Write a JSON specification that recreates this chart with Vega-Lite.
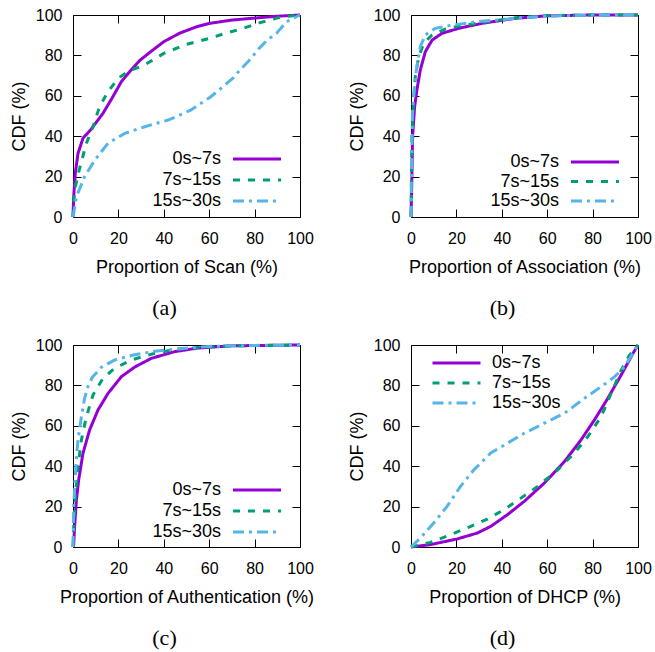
{
  "$schema": "https://vega.github.io/schema/vega-lite/v6.json",
  "padding": {"left": 10, "top": 7, "right": 5, "bottom": 5},
  "background": "white",
  "config": {
    "font": "Liberation Sans",
    "view": {"stroke": null},
    "axis": {"grid": false, "labelFlush": false, "domainColor": "black", "domainWidth": 1, "tickColor": "black", "tickWidth": 1, "labelFont": "Liberation Sans", "labelFontSize": 16, "labelColor": "black", "titleFont": "Liberation Sans", "titleFontSize": 18, "titleFontWeight": "normal", "titleColor": "black"},
    "legend": {"labelFont": "Liberation Sans", "labelFontSize": 18, "labelColor": "black", "padding": 0},
    "title": {"font": "Liberation Serif", "fontSize": 22, "fontWeight": "normal", "color": "black"}
  },
  "data": {"values": [
    {"panel":"a","series":"0s~7s","x":0,"y":0},{"panel":"a","series":"0s~7s","x":0.3,"y":10},{"panel":"a","series":"0s~7s","x":1,"y":21.6},{"panel":"a","series":"0s~7s","x":2.2,"y":31.5},{"panel":"a","series":"0s~7s","x":4.4,"y":39},{"panel":"a","series":"0s~7s","x":8,"y":43.5},{"panel":"a","series":"0s~7s","x":13.2,"y":51.3},{"panel":"a","series":"0s~7s","x":17.6,"y":59.6},{"panel":"a","series":"0s~7s","x":21.3,"y":67},{"panel":"a","series":"0s~7s","x":25,"y":72},{"panel":"a","series":"0s~7s","x":29.6,"y":77.7},{"panel":"a","series":"0s~7s","x":35,"y":82.5},{"panel":"a","series":"0s~7s","x":40,"y":86.8},{"panel":"a","series":"0s~7s","x":47,"y":91},{"panel":"a","series":"0s~7s","x":54.5,"y":94.2},{"panel":"a","series":"0s~7s","x":60.4,"y":95.9},{"panel":"a","series":"0s~7s","x":70,"y":97.5},{"panel":"a","series":"0s~7s","x":79.4,"y":98.4},{"panel":"a","series":"0s~7s","x":90,"y":99.4},{"panel":"a","series":"0s~7s","x":100,"y":100},
    {"panel":"a","series":"7s~15s","x":0,"y":0},{"panel":"a","series":"7s~15s","x":0.7,"y":13.4},{"panel":"a","series":"7s~15s","x":2.9,"y":24},{"panel":"a","series":"7s~15s","x":5.9,"y":36.5},{"panel":"a","series":"7s~15s","x":8.8,"y":44.7},{"panel":"a","series":"7s~15s","x":11.7,"y":54.6},{"panel":"a","series":"7s~15s","x":15.4,"y":62},{"panel":"a","series":"7s~15s","x":17.6,"y":65.3},{"panel":"a","series":"7s~15s","x":21,"y":69.5},{"panel":"a","series":"7s~15s","x":25,"y":72.5},{"panel":"a","series":"7s~15s","x":31.4,"y":75.2},{"panel":"a","series":"7s~15s","x":40,"y":81},{"panel":"a","series":"7s~15s","x":50,"y":85.5},{"panel":"a","series":"7s~15s","x":60.4,"y":88.5},{"panel":"a","series":"7s~15s","x":66.2,"y":90.6},{"panel":"a","series":"7s~15s","x":75,"y":93.4},{"panel":"a","series":"7s~15s","x":82.4,"y":96.2},{"panel":"a","series":"7s~15s","x":91.2,"y":98.9},{"panel":"a","series":"7s~15s","x":100,"y":100},
    {"panel":"a","series":"15s~30s","x":0,"y":0},{"panel":"a","series":"15s~30s","x":1.5,"y":10},{"panel":"a","series":"15s~30s","x":5.1,"y":20},{"panel":"a","series":"15s~30s","x":9.5,"y":28},{"panel":"a","series":"15s~30s","x":15.4,"y":36.5},{"panel":"a","series":"15s~30s","x":22.8,"y":41.4},{"panel":"a","series":"15s~30s","x":31.6,"y":44.7},{"panel":"a","series":"15s~30s","x":41.9,"y":48},{"panel":"a","series":"15s~30s","x":47.1,"y":50.5},{"panel":"a","series":"15s~30s","x":52,"y":53},{"panel":"a","series":"15s~30s","x":56,"y":56},{"panel":"a","series":"15s~30s","x":60.4,"y":59.3},{"panel":"a","series":"15s~30s","x":65,"y":63.5},{"panel":"a","series":"15s~30s","x":70.7,"y":69},{"panel":"a","series":"15s~30s","x":73.6,"y":72.8},{"panel":"a","series":"15s~30s","x":78,"y":78},{"panel":"a","series":"15s~30s","x":82.4,"y":84},{"panel":"a","series":"15s~30s","x":86,"y":88},{"panel":"a","series":"15s~30s","x":89.7,"y":91},{"panel":"a","series":"15s~30s","x":94.1,"y":96.7},{"panel":"a","series":"15s~30s","x":100,"y":100},
    {"panel":"b","series":"0s~7s","x":0,"y":0},{"panel":"b","series":"0s~7s","x":0.4,"y":20},{"panel":"b","series":"0s~7s","x":0.7,"y":39.8},{"panel":"b","series":"0s~7s","x":1.6,"y":54.6},{"panel":"b","series":"0s~7s","x":2.6,"y":62.9},{"panel":"b","series":"0s~7s","x":4.1,"y":72.8},{"panel":"b","series":"0s~7s","x":6.3,"y":81.8},{"panel":"b","series":"0s~7s","x":9.3,"y":87.6},{"panel":"b","series":"0s~7s","x":13.6,"y":90.9},{"panel":"b","series":"0s~7s","x":21,"y":93.4},{"panel":"b","series":"0s~7s","x":31.4,"y":95.9},{"panel":"b","series":"0s~7s","x":46.2,"y":98.4},{"panel":"b","series":"0s~7s","x":60,"y":99.6},{"panel":"b","series":"0s~7s","x":80,"y":100},{"panel":"b","series":"0s~7s","x":100,"y":100},
    {"panel":"b","series":"7s~15s","x":0,"y":0},{"panel":"b","series":"7s~15s","x":0.2,"y":20},{"panel":"b","series":"7s~15s","x":0.4,"y":40},{"panel":"b","series":"7s~15s","x":1.1,"y":56.3},{"panel":"b","series":"7s~15s","x":1.9,"y":69.5},{"panel":"b","series":"7s~15s","x":3.4,"y":79.4},{"panel":"b","series":"7s~15s","x":5.6,"y":86},{"panel":"b","series":"7s~15s","x":9.3,"y":90.1},{"panel":"b","series":"7s~15s","x":15,"y":93},{"panel":"b","series":"7s~15s","x":21,"y":94.5},{"panel":"b","series":"7s~15s","x":31.4,"y":96.3},{"panel":"b","series":"7s~15s","x":46.2,"y":98.6},{"panel":"b","series":"7s~15s","x":60,"y":99.7},{"panel":"b","series":"7s~15s","x":80,"y":100},{"panel":"b","series":"7s~15s","x":100,"y":100},
    {"panel":"b","series":"15s~30s","x":0,"y":0},{"panel":"b","series":"15s~30s","x":0.2,"y":20},{"panel":"b","series":"15s~30s","x":0.7,"y":53},{"panel":"b","series":"15s~30s","x":1.9,"y":69.5},{"panel":"b","series":"15s~30s","x":3.1,"y":77.7},{"panel":"b","series":"15s~30s","x":4.1,"y":84.3},{"panel":"b","series":"15s~30s","x":6.3,"y":90.1},{"panel":"b","series":"15s~30s","x":10.7,"y":93.4},{"panel":"b","series":"15s~30s","x":18,"y":95},{"panel":"b","series":"15s~30s","x":30,"y":96.8},{"panel":"b","series":"15s~30s","x":46.2,"y":98.3},{"panel":"b","series":"15s~30s","x":60,"y":99.5},{"panel":"b","series":"15s~30s","x":80,"y":99.9},{"panel":"b","series":"15s~30s","x":100,"y":100},
    {"panel":"c","series":"0s~7s","x":0,"y":0},{"panel":"c","series":"0s~7s","x":0.3,"y":1},{"panel":"c","series":"0s~7s","x":0.7,"y":10},{"panel":"c","series":"0s~7s","x":1.5,"y":23.3},{"panel":"c","series":"0s~7s","x":2.5,"y":33.2},{"panel":"c","series":"0s~7s","x":4.4,"y":46.4},{"panel":"c","series":"0s~7s","x":7.3,"y":57.9},{"panel":"c","series":"0s~7s","x":11,"y":67.8},{"panel":"c","series":"0s~7s","x":15.4,"y":76},{"panel":"c","series":"0s~7s","x":21.3,"y":84.3},{"panel":"c","series":"0s~7s","x":27.2,"y":89.1},{"panel":"c","series":"0s~7s","x":34.5,"y":93.4},{"panel":"c","series":"0s~7s","x":44.8,"y":96.7},{"panel":"c","series":"0s~7s","x":55,"y":98.5},{"panel":"c","series":"0s~7s","x":70,"y":99.6},{"panel":"c","series":"0s~7s","x":100,"y":100},
    {"panel":"c","series":"7s~15s","x":0,"y":0},{"panel":"c","series":"7s~15s","x":0.3,"y":10},{"panel":"c","series":"7s~15s","x":1,"y":25},{"panel":"c","series":"7s~15s","x":2.2,"y":39.8},{"panel":"c","series":"7s~15s","x":3.7,"y":53},{"panel":"c","series":"7s~15s","x":5.9,"y":64.5},{"panel":"c","series":"7s~15s","x":8.8,"y":75.2},{"panel":"c","series":"7s~15s","x":13.2,"y":83.5},{"panel":"c","series":"7s~15s","x":18.4,"y":88.5},{"panel":"c","series":"7s~15s","x":25.7,"y":92.6},{"panel":"c","series":"7s~15s","x":36,"y":95.9},{"panel":"c","series":"7s~15s","x":45,"y":97.8},{"panel":"c","series":"7s~15s","x":55,"y":98.8},{"panel":"c","series":"7s~15s","x":70,"y":99.6},{"panel":"c","series":"7s~15s","x":100,"y":100},
    {"panel":"c","series":"15s~30s","x":0,"y":0},{"panel":"c","series":"15s~30s","x":0.3,"y":20},{"panel":"c","series":"15s~30s","x":1,"y":35},{"panel":"c","series":"15s~30s","x":1.6,"y":45},{"panel":"c","series":"15s~30s","x":2.2,"y":53},{"panel":"c","series":"15s~30s","x":3.7,"y":64.5},{"panel":"c","series":"15s~30s","x":5.1,"y":73.6},{"panel":"c","series":"15s~30s","x":6.6,"y":79.5},{"panel":"c","series":"15s~30s","x":8.5,"y":84},{"panel":"c","series":"15s~30s","x":12.5,"y":89},{"panel":"c","series":"15s~30s","x":18.4,"y":92.6},{"panel":"c","series":"15s~30s","x":27.2,"y":95.2},{"panel":"c","series":"15s~30s","x":36,"y":96.9},{"panel":"c","series":"15s~30s","x":45,"y":98},{"panel":"c","series":"15s~30s","x":60,"y":99.3},{"panel":"c","series":"15s~30s","x":80,"y":99.8},{"panel":"c","series":"15s~30s","x":100,"y":100},
    {"panel":"d","series":"0s~7s","x":0,"y":0},{"panel":"d","series":"0s~7s","x":8.6,"y":1.2},{"panel":"d","series":"0s~7s","x":20.4,"y":4},{"panel":"d","series":"0s~7s","x":29.2,"y":6.9},{"panel":"d","series":"0s~7s","x":35.1,"y":10.2},{"panel":"d","series":"0s~7s","x":42.5,"y":16},{"panel":"d","series":"0s~7s","x":49.9,"y":22.6},{"panel":"d","series":"0s~7s","x":58.7,"y":31.6},{"panel":"d","series":"0s~7s","x":67.6,"y":42.3},{"panel":"d","series":"0s~7s","x":74.9,"y":53},{"panel":"d","series":"0s~7s","x":80.8,"y":62.9},{"panel":"d","series":"0s~7s","x":86.7,"y":73.6},{"panel":"d","series":"0s~7s","x":92.6,"y":85.2},{"panel":"d","series":"0s~7s","x":97.8,"y":95.9},{"panel":"d","series":"0s~7s","x":100,"y":100},
    {"panel":"d","series":"7s~15s","x":0,"y":0},{"panel":"d","series":"7s~15s","x":8.6,"y":2.3},{"panel":"d","series":"7s~15s","x":17.4,"y":6.1},{"panel":"d","series":"7s~15s","x":26.3,"y":10.2},{"panel":"d","series":"7s~15s","x":33.6,"y":13.8},{"panel":"d","series":"7s~15s","x":41,"y":18.5},{"panel":"d","series":"7s~15s","x":48.4,"y":24.2},{"panel":"d","series":"7s~15s","x":55.8,"y":30},{"panel":"d","series":"7s~15s","x":64.6,"y":38.2},{"panel":"d","series":"7s~15s","x":72,"y":46.5},{"panel":"d","series":"7s~15s","x":77.9,"y":54.7},{"panel":"d","series":"7s~15s","x":83.8,"y":64.6},{"panel":"d","series":"7s~15s","x":88.2,"y":76.1},{"panel":"d","series":"7s~15s","x":92.6,"y":87.6},{"panel":"d","series":"7s~15s","x":96.3,"y":95},{"panel":"d","series":"7s~15s","x":100,"y":100},
    {"panel":"d","series":"15s~30s","x":0,"y":0},{"panel":"d","series":"15s~30s","x":4.1,"y":4.4},{"panel":"d","series":"15s~30s","x":10,"y":11.9},{"panel":"d","series":"15s~30s","x":15.9,"y":20.1},{"panel":"d","series":"15s~30s","x":21.8,"y":30},{"panel":"d","series":"15s~30s","x":27.7,"y":38.2},{"panel":"d","series":"15s~30s","x":35.1,"y":46.5},{"panel":"d","series":"15s~30s","x":42.5,"y":51.4},{"panel":"d","series":"15s~30s","x":49.9,"y":56.3},{"panel":"d","series":"15s~30s","x":58.7,"y":61.3},{"panel":"d","series":"15s~30s","x":67.6,"y":66.2},{"panel":"d","series":"15s~30s","x":76.4,"y":73.6},{"panel":"d","series":"15s~30s","x":83.8,"y":79.4},{"panel":"d","series":"15s~30s","x":89.7,"y":84.3},{"panel":"d","series":"15s~30s","x":94.1,"y":89.3},{"panel":"d","series":"15s~30s","x":100,"y":100}
  ]},
  "columns": 2,
  "spacing": {"row": 128, "column": 111},
  "bounds": "flush",
  "resolve": {"scale": {"color": "independent", "strokeDash": "independent"}, "legend": {"color": "independent", "strokeDash": "independent"}},
  "concat": [
    {
      "width": 227, "height": 202,
      "title": {"text": "(a)", "orient": "bottom", "anchor": "middle", "dx": -22, "offset": 22},
      "transform": [{"filter": "datum.panel == 'a'"}],
      "layer": [
        {
          "mark": {"type": "line", "strokeWidth": 3},
          "encoding": {
            "x": {"field": "x", "type": "quantitative", "scale": {"domain": [0, 100]}, "axis": {"title": "Proportion of Scan (%)", "orient": "bottom", "values": [0, 20, 40, 60, 80, 100], "tickSize": -8, "labelPadding": 21, "titlePadding": 12}},
            "y": {"field": "y", "type": "quantitative", "scale": {"domain": [0, 100]}, "axis": {"title": "CDF (%)", "orient": "left", "values": [0, 20, 40, 60, 80, 100], "tickSize": -8, "labelPadding": 19, "titlePadding": 7}},
            "color": {"field": "series", "type": "nominal", "scale": {"domain": ["0s~7s", "7s~15s", "15s~30s"], "range": ["#9400D3", "#009E73", "#56B4E9"]}, "legend": {"title": null, "orient": "none", "legendX": 75, "legendY": 135, "symbolType": "M-4,0H4", "symbolSize": 144, "symbolStrokeWidth": 3, "symbolOffset": 100, "labelAlign": "right", "labelOffset": -45, "rowPadding": 3}},
            "strokeDash": {"field": "series", "type": "nominal", "scale": {"domain": ["0s~7s", "7s~15s", "15s~30s"], "range": [[1, 0], [7, 8], [11, 5, 3, 5]]}, "legend": {"title": null, "orient": "none", "legendX": 75, "legendY": 135, "symbolType": "M-4,0H4", "symbolSize": 144, "symbolStrokeWidth": 3, "symbolOffset": 100, "labelAlign": "right", "labelOffset": -45, "rowPadding": 3}}
          }
        },
        {
          "mark": {"type": "point", "opacity": 0},
          "encoding": {
            "x": {"field": "x", "type": "quantitative", "axis": {"orient": "top", "labels": false, "title": null, "tickSize": -8, "values": [0, 20, 40, 60, 80, 100]}},
            "y": {"field": "y", "type": "quantitative", "axis": {"orient": "right", "labels": false, "title": null, "tickSize": -8, "values": [0, 20, 40, 60, 80, 100]}}
          }
        }
      ],
      "resolve": {"axis": {"x": "independent", "y": "independent"}}
    },
    {
      "width": 227, "height": 202,
      "title": {"text": "(b)", "orient": "bottom", "anchor": "middle", "dx": -22, "offset": 22},
      "transform": [{"filter": "datum.panel == 'b'"}],
      "layer": [
        {
          "mark": {"type": "line", "strokeWidth": 3},
          "encoding": {
            "x": {"field": "x", "type": "quantitative", "scale": {"domain": [0, 100]}, "axis": {"title": "Proportion of Association (%)", "orient": "bottom", "values": [0, 20, 40, 60, 80, 100], "tickSize": -8, "labelPadding": 21, "titlePadding": 12}},
            "y": {"field": "y", "type": "quantitative", "scale": {"domain": [0, 100]}, "axis": {"title": "CDF (%)", "orient": "left", "values": [0, 20, 40, 60, 80, 100], "tickSize": -8, "labelPadding": 19, "titlePadding": 7}},
            "color": {"field": "series", "type": "nominal", "scale": {"domain": ["0s~7s", "7s~15s", "15s~30s"], "range": ["#9400D3", "#009E73", "#56B4E9"]}, "legend": {"title": null, "orient": "none", "legendX": 75, "legendY": 138, "symbolType": "M-4,0H4", "symbolSize": 144, "symbolStrokeWidth": 3, "symbolOffset": 100, "labelAlign": "right", "labelOffset": -45, "rowPadding": 1.5}},
            "strokeDash": {"field": "series", "type": "nominal", "scale": {"domain": ["0s~7s", "7s~15s", "15s~30s"], "range": [[1, 0], [7, 8], [11, 5, 3, 5]]}, "legend": {"title": null, "orient": "none", "legendX": 75, "legendY": 138, "symbolType": "M-4,0H4", "symbolSize": 144, "symbolStrokeWidth": 3, "symbolOffset": 100, "labelAlign": "right", "labelOffset": -45, "rowPadding": 1.5}}
          }
        },
        {
          "mark": {"type": "point", "opacity": 0},
          "encoding": {
            "x": {"field": "x", "type": "quantitative", "axis": {"orient": "top", "labels": false, "title": null, "tickSize": -8, "values": [0, 20, 40, 60, 80, 100]}},
            "y": {"field": "y", "type": "quantitative", "axis": {"orient": "right", "labels": false, "title": null, "tickSize": -8, "values": [0, 20, 40, 60, 80, 100]}}
          }
        }
      ],
      "resolve": {"axis": {"x": "independent", "y": "independent"}}
    },
    {
      "width": 227, "height": 202,
      "title": {"text": "(c)", "orient": "bottom", "anchor": "middle", "dx": -22, "offset": 22},
      "transform": [{"filter": "datum.panel == 'c'"}],
      "layer": [
        {
          "mark": {"type": "line", "strokeWidth": 3},
          "encoding": {
            "x": {"field": "x", "type": "quantitative", "scale": {"domain": [0, 100]}, "axis": {"title": "Proportion of Authentication (%)", "orient": "bottom", "values": [0, 20, 40, 60, 80, 100], "tickSize": -8, "labelPadding": 21, "titlePadding": 12}},
            "y": {"field": "y", "type": "quantitative", "scale": {"domain": [0, 100]}, "axis": {"title": "CDF (%)", "orient": "left", "values": [0, 20, 40, 60, 80, 100], "tickSize": -8, "labelPadding": 19, "titlePadding": 7}},
            "color": {"field": "series", "type": "nominal", "scale": {"domain": ["0s~7s", "7s~15s", "15s~30s"], "range": ["#9400D3", "#009E73", "#56B4E9"]}, "legend": {"title": null, "orient": "none", "legendX": 75, "legendY": 136, "symbolType": "M-4,0H4", "symbolSize": 144, "symbolStrokeWidth": 3, "symbolOffset": 100, "labelAlign": "right", "labelOffset": -45, "rowPadding": 3}},
            "strokeDash": {"field": "series", "type": "nominal", "scale": {"domain": ["0s~7s", "7s~15s", "15s~30s"], "range": [[1, 0], [7, 8], [11, 5, 3, 5]]}, "legend": {"title": null, "orient": "none", "legendX": 75, "legendY": 136, "symbolType": "M-4,0H4", "symbolSize": 144, "symbolStrokeWidth": 3, "symbolOffset": 100, "labelAlign": "right", "labelOffset": -45, "rowPadding": 3}}
          }
        },
        {
          "mark": {"type": "point", "opacity": 0},
          "encoding": {
            "x": {"field": "x", "type": "quantitative", "axis": {"orient": "top", "labels": false, "title": null, "tickSize": -8, "values": [0, 20, 40, 60, 80, 100]}},
            "y": {"field": "y", "type": "quantitative", "axis": {"orient": "right", "labels": false, "title": null, "tickSize": -8, "values": [0, 20, 40, 60, 80, 100]}}
          }
        }
      ],
      "resolve": {"axis": {"x": "independent", "y": "independent"}}
    },
    {
      "width": 227, "height": 202,
      "title": {"text": "(d)", "orient": "bottom", "anchor": "middle", "dx": -22, "offset": 22},
      "transform": [{"filter": "datum.panel == 'd'"}],
      "layer": [
        {
          "mark": {"type": "line", "strokeWidth": 3},
          "encoding": {
            "x": {"field": "x", "type": "quantitative", "scale": {"domain": [0, 100]}, "axis": {"title": "Proportion of DHCP (%)", "orient": "bottom", "values": [0, 20, 40, 60, 80, 100], "tickSize": -8, "labelPadding": 21, "titlePadding": 12}},
            "y": {"field": "y", "type": "quantitative", "scale": {"domain": [0, 100]}, "axis": {"title": "CDF (%)", "orient": "left", "values": [0, 20, 40, 60, 80, 100], "tickSize": -8, "labelPadding": 19, "titlePadding": 7}},
            "color": {"field": "series", "type": "nominal", "scale": {"domain": ["0s~7s", "7s~15s", "15s~30s"], "range": ["#9400D3", "#009E73", "#56B4E9"]}, "legend": {"title": null, "orient": "none", "legendX": 20, "legendY": 8, "symbolType": "stroke", "symbolSize": 2304, "symbolStrokeWidth": 3, "labelAlign": "left", "labelOffset": 10, "clipHeight": 20, "rowPadding": 0}},
            "strokeDash": {"field": "series", "type": "nominal", "scale": {"domain": ["0s~7s", "7s~15s", "15s~30s"], "range": [[1, 0], [7, 8], [11, 5, 3, 5]]}, "legend": {"title": null, "orient": "none", "legendX": 20, "legendY": 8, "symbolType": "stroke", "symbolSize": 2304, "symbolStrokeWidth": 3, "labelAlign": "left", "labelOffset": 10, "clipHeight": 20, "rowPadding": 0}}
          }
        },
        {
          "mark": {"type": "point", "opacity": 0},
          "encoding": {
            "x": {"field": "x", "type": "quantitative", "axis": {"orient": "top", "labels": false, "title": null, "tickSize": -8, "values": [0, 20, 40, 60, 80, 100]}},
            "y": {"field": "y", "type": "quantitative", "axis": {"orient": "right", "labels": false, "title": null, "tickSize": -8, "values": [0, 20, 40, 60, 80, 100]}}
          }
        }
      ],
      "resolve": {"axis": {"x": "independent", "y": "independent"}}
    }
  ]
}
